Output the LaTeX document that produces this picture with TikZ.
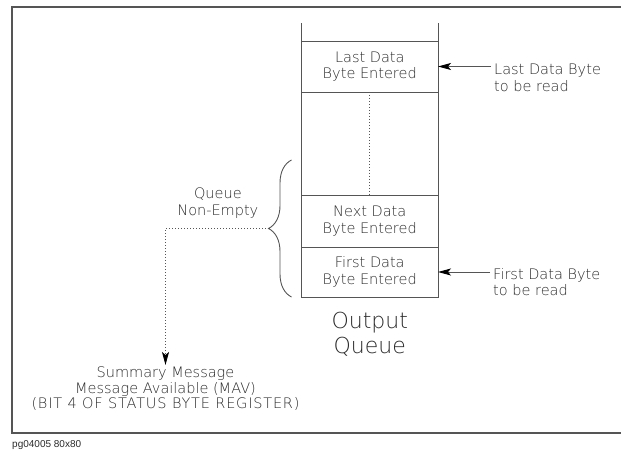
\documentclass[tikz,border=0pt]{standalone}
\usepackage{fontspec}
\setmainfont{DejaVu Sans ExtraLight}
\newfontfamily\capfont{Liberation Sans}
\usetikzlibrary{positioning, decorations.pathreplacing, arrows.meta}
\definecolor{ink}{HTML}{555555}
\definecolor{lettering}{HTML}{2A2A2A}
\newcommand{\cellfont}{\fontsize{14.5}{16.5}\selectfont}

\begin{document}
\begin{tikzpicture}[x=1pt, y=1pt, color=ink, font=\cellfont, text=lettering,
    cell/.style={draw, line width=0.9pt, minimum width=136.5pt, inner sep=0pt, outer sep=0pt, align=center},
    pointer/.style={-{Stealth[length=13pt, width=7pt, inset=3pt, color=black]}, line width=0.9pt},
    dotline/.style={line width=0.9pt, dash pattern=on 0.9pt off 2.1pt}]
            \useasboundingbox (0,0) rectangle (621,452);
            % frame, open on the right side
            \draw [line width=1.2pt] (621,445) -- (12,445) -- (12,19) -- (621,19);
            \node [cell, minimum height=51pt] (last) at (369.75,385.5) {Last Data\\Byte Entered};
            \node [cell, minimum height=103pt, below=0pt of last] (gap) {};
            \node [cell, minimum height=52pt, below=0pt of gap] (next) {Next Data\\Byte Entered};
            \node [cell, minimum height=50pt, below=0pt of next] (first) {First Data\\Byte Entered};
            \draw [line width=0.9pt] (last.north west) -- ++(0,18) (last.north east) -- ++(0,18);
            \draw [dotline] (gap.north) -- (gap.south);
            \node [below=15pt of first, font=\fontsize{22}{25}\selectfont, align=center, inner sep=0pt] (outq) {Output\\Queue};

            \node [anchor=north west, align=left, inner sep=3pt] (lastlbl) at (491,391) {Last Data Byte\\to be read};
            \node [anchor=north west, align=left, inner sep=3pt] (firstlbl) at (490,187) {First Data Byte\\to be read};
            \draw [pointer] (lastlbl.west |- last.east) -- (last.east);
            \draw [pointer] (firstlbl.west |- first.east) -- (first.east);

            \draw [line width=0.9pt, decorate, decoration={brace, amplitude=23pt}] ([xshift=-10pt]first.south west) -- ([xshift=-10pt, yshift=35pt]gap.south west) coordinate [midway, xshift=-23pt] (bracetip);
            \node [above left=10pt and 10pt of bracetip, align=center, inner sep=0pt] (qlbl) {Queue\\Non-Empty};
            \node [anchor=north, align=center, font=\fontsize{14.5}{15.5}\selectfont, inner sep=2pt] (mav) at (165.5,87) {Summary Message\\Message Available (MAV)\\{\addfontfeature{LetterSpace=5.5}(BIT 4 OF STATUS BYTE REGISTER)}};
            \draw [dotline, -{Stealth[length=13pt, width=7pt, inset=3pt, color=black]}] (bracetip) -| (mav.north);

            \node [anchor=west, font=\capfont\fontsize{10}{12}\selectfont, inner sep=0pt] (caption) at (12,7) {pg04005 80x80};
\end{tikzpicture}
\end{document}
